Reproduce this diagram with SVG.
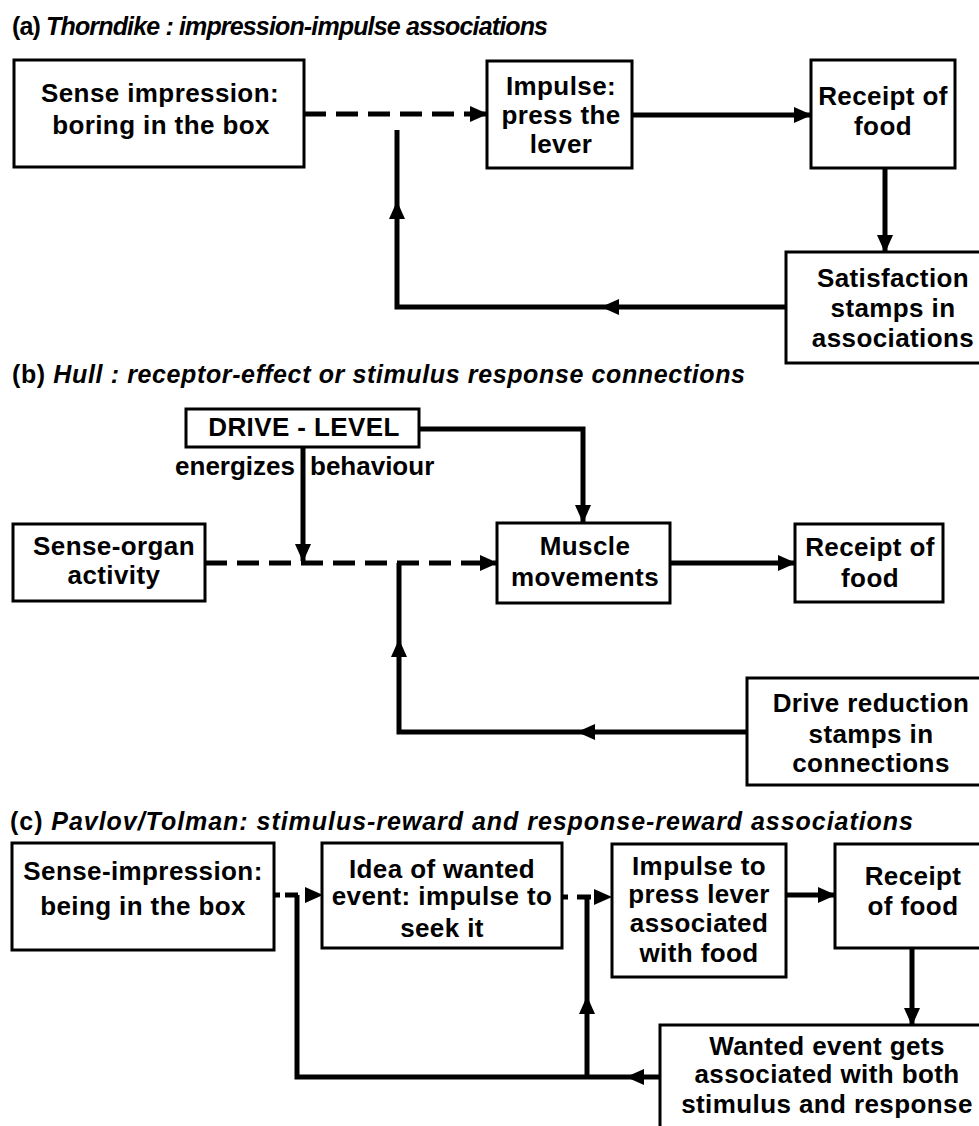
<svg xmlns="http://www.w3.org/2000/svg" width="979" height="1126" viewBox="0 0 979 1126">
  <style>
    .box { fill: #fff; stroke: #000; stroke-width: 3; }
    .t { font-family: "Liberation Sans", Arial, sans-serif; font-weight: bold; font-size: 26px; text-anchor: middle; fill: #000; letter-spacing: 0.4px; }
    .lbl { font-family: "Liberation Sans", Arial, sans-serif; font-weight: bold; font-size: 26px; fill: #000; }
    .title { font-family: "Liberation Sans", Arial, sans-serif; font-weight: bold; font-style: italic; font-size: 25px; fill: #000; }
    .up { font-style: normal; }
    .wire { fill: none; stroke: #000; stroke-width: 5; }
    .dash { stroke-dasharray: 22 10; }
  </style>
  <defs>
    <marker id="arr" viewBox="0 0 18 16" refX="17" refY="8" markerWidth="18" markerHeight="16" markerUnits="userSpaceOnUse" orient="auto">
      <path d="M0,0 L18,8 L0,16 z" fill="#000"/>
    </marker>
  </defs>
  <rect width="979" height="1126" fill="#fff"/>

  <!-- section headings -->
  <text class="title" x="12" y="35" textLength="536" lengthAdjust="spacing"><tspan class="up">(a)</tspan> Thorndike : impression-impulse associations</text>
  <text class="title" x="12" y="383" textLength="733" lengthAdjust="spacing"><tspan class="up">(b)</tspan> Hull : receptor-effect or stimulus response connections</text>
  <text class="title" x="10" y="830" textLength="903" lengthAdjust="spacing"><tspan class="up">(c)</tspan> Pavlov/Tolman: stimulus-reward and response-reward associations</text>

  <!-- connectors -->
  <g id="connectors">
    <!-- (a) -->
    <path class="wire dash" d="M304,114 H487" marker-end="url(#arr)"/>
    <path class="wire" d="M632,115 H811" marker-end="url(#arr)"/>
    <path class="wire" d="M885,168 V252" marker-end="url(#arr)"/>
    <path class="wire" d="M786,307 H602" marker-end="url(#arr)"/>
    <path class="wire" d="M602,307 H397 V202" marker-end="url(#arr)"/>
    <path class="wire" d="M397,202 V130"/>
    <!-- (b) -->
    <path class="wire" d="M419,429 H583 V522" marker-end="url(#arr)"/>
    <path class="wire" d="M303,447 V561" marker-end="url(#arr)"/>
    <path class="wire dash" d="M205,563 H497" marker-end="url(#arr)"/>
    <path class="wire" d="M670,563 H795" marker-end="url(#arr)"/>
    <path class="wire" d="M747,732 H578" marker-end="url(#arr)"/>
    <path class="wire" d="M578,732 H399 V640" marker-end="url(#arr)"/>
    <path class="wire" d="M399,640 V563"/>
    <!-- (c) -->
    <path class="wire" d="M274,895 H322" style="stroke-dasharray: 6 5 13 40" marker-end="url(#arr)"/>
    <path class="wire" d="M563,897 H611" style="stroke-dasharray: 5 9 14 40" marker-end="url(#arr)"/>
    <path class="wire" d="M786,895 H835" marker-end="url(#arr)"/>
    <path class="wire" d="M912,948 V1025" marker-end="url(#arr)"/>
    <path class="wire" d="M660,1077 H627" marker-end="url(#arr)"/>
    <path class="wire" d="M627,1077 H297 V895"/>
    <path class="wire" d="M587,1077 V997" marker-end="url(#arr)"/>
    <path class="wire" d="M587,997 V897"/>
  </g>

  <!-- (a) nodes -->
  <g id="a-sense">
    <rect class="box" x="14" y="60" width="290" height="107"/>
    <text class="t" x="160" y="102">Sense impression:</text>
    <text class="t" x="161" y="134">boring in the box</text>
  </g>
  <g id="a-impulse">
    <rect class="box" x="487" y="61" width="145" height="107"/>
    <text class="t" x="561" y="95">Impulse:</text>
    <text class="t" x="561" y="124">press the</text>
    <text class="t" x="561" y="153">lever</text>
  </g>
  <g id="a-food">
    <rect class="box" x="811" y="60" width="144" height="108"/>
    <text class="t" x="883" y="105">Receipt of</text>
    <text class="t" x="883" y="135">food</text>
  </g>
  <g id="a-satisfaction">
    <rect class="box" x="786" y="252" width="215" height="111"/>
    <text class="t" x="893" y="287">Satisfaction</text>
    <text class="t" x="893" y="317">stamps in</text>
    <text class="t" x="893" y="347">associations</text>
  </g>

  <!-- (b) nodes -->
  <g id="b-drive">
    <rect class="box" x="186" y="409" width="233" height="38"/>
    <text class="t" x="304" y="436">DRIVE - LEVEL</text>
    <text class="lbl" x="295" y="475" text-anchor="end">energizes</text>
    <text class="lbl" x="310" y="475">behaviour</text>
  </g>
  <g id="b-sense">
    <rect class="box" x="13" y="524" width="192" height="77"/>
    <text class="t" x="114" y="555">Sense-organ</text>
    <text class="t" x="114" y="584">activity</text>
  </g>
  <g id="b-muscle">
    <rect class="box" x="497" y="523" width="173" height="80"/>
    <text class="t" x="585" y="555">Muscle</text>
    <text class="t" x="585" y="586">movements</text>
  </g>
  <g id="b-food">
    <rect class="box" x="795" y="524" width="148" height="78"/>
    <text class="t" x="870" y="556">Receipt of</text>
    <text class="t" x="870" y="587">food</text>
  </g>
  <g id="b-reduction">
    <rect class="box" x="747" y="678" width="245" height="107"/>
    <text class="t" x="871" y="712">Drive reduction</text>
    <text class="t" x="871" y="743">stamps in</text>
    <text class="t" x="871" y="772">connections</text>
  </g>

  <!-- (c) nodes -->
  <g id="c-sense">
    <rect class="box" x="12" y="843" width="262" height="107"/>
    <text class="t" x="143" y="880">Sense-impression:</text>
    <text class="t" x="143" y="915">being in the box</text>
  </g>
  <g id="c-idea">
    <rect class="box" x="322" y="843" width="240" height="105"/>
    <text class="t" x="442" y="878">Idea of wanted</text>
    <text class="t" x="442" y="905">event: impulse to</text>
    <text class="t" x="442" y="937">seek it</text>
  </g>
  <g id="c-impulse">
    <rect class="box" x="612" y="844" width="174" height="133"/>
    <text class="t" x="699" y="875">Impulse to</text>
    <text class="t" x="699" y="903">press lever</text>
    <text class="t" x="699" y="932">associated</text>
    <text class="t" x="699" y="962">with food</text>
  </g>
  <g id="c-food">
    <rect class="box" x="835" y="844" width="160" height="104"/>
    <text class="t" x="913" y="885">Receipt</text>
    <text class="t" x="913" y="915">of food</text>
  </g>
  <g id="c-wanted">
    <rect class="box" x="660" y="1025" width="340" height="110"/>
    <text class="t" x="827" y="1055">Wanted event gets</text>
    <text class="t" x="827" y="1083">associated with both</text>
    <text class="t" x="827" y="1113">stimulus and response</text>
  </g>
</svg>
